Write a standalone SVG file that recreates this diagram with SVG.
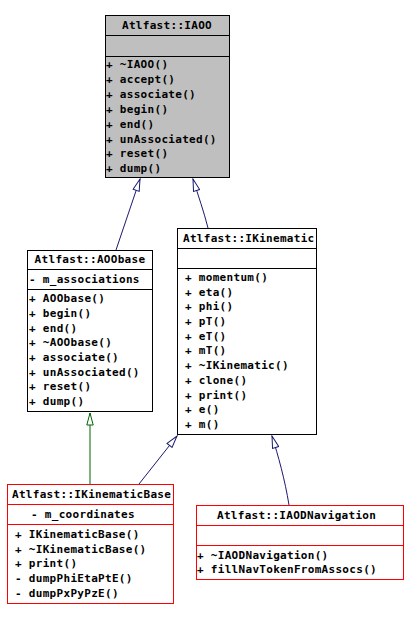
<svg xmlns="http://www.w3.org/2000/svg" width="406" height="620" viewBox="0 0 406 620">
<style>
text{font-family:"DejaVu Sans Mono","Liberation Mono",monospace;font-size:11px;letter-spacing:0.3px;font-weight:bold;fill:#000}
.box{fill:#fff;stroke:#000;stroke-width:1}
.grey{fill:#bfbfbf}
.red{stroke:#ff0000}
.sep{stroke:#000;stroke-width:1}
.sepr{stroke:#ff0000;stroke-width:1}
.pub{fill:none;stroke:#191970;stroke-width:1}
.prot{fill:none;stroke:#006400;stroke-width:1}
.c{text-anchor:middle}
</style>
<defs>
<marker id="aPub" viewBox="0 0 14 8" refX="13" refY="4" markerWidth="14" markerHeight="8" markerUnits="userSpaceOnUse" orient="auto">
<path d="M1,0.8 L13,4 L1,7.2 Z" fill="#fff" stroke="#191970" stroke-width="1"/>
</marker>
<marker id="aProt" viewBox="0 0 14 8" refX="13" refY="4" markerWidth="14" markerHeight="8" markerUnits="userSpaceOnUse" orient="auto">
<path d="M1,0.8 L13,4 L1,7.2 Z" fill="#fff" stroke="#006400" stroke-width="1"/>
</marker>
</defs>
<g id="connectors">
<path class="pub" d="M116,250 L140,179" marker-end="url(#aPub)"/>
<path class="pub" d="M208,228 C204,212 198,195 193,179" marker-end="url(#aPub)"/>
<path class="prot" d="M90,484 L90,413" marker-end="url(#aProt)"/>
<path class="pub" d="M139,484 L177,436" marker-end="url(#aPub)"/>
<path class="pub" d="M289,505 C285,480 278,455 272,436" marker-end="url(#aPub)"/>
</g>
<g id="IAOO">
<rect class="box grey" x="105.5" y="15.5" width="124" height="162"/>
<line class="sep" x1="105" y1="35.5" x2="230" y2="35.5"/>
<line class="sep" x1="105" y1="56.5" x2="230" y2="56.5"/>
<text class="c" x="167" y="29">Atlfast::IAOO</text>
<text x="106" y="68">+ ~IAOO()</text>
<text x="106" y="83">+ accept()</text>
<text x="106" y="98">+ associate()</text>
<text x="106" y="112.5">+ begin()</text>
<text x="106" y="127.5">+ end()</text>
<text x="106" y="142.5">+ unAssociated()</text>
<text x="106" y="157">+ reset()</text>
<text x="106" y="172">+ dump()</text>
</g>
<g id="AOObase">
<rect class="box" x="27.5" y="250.5" width="125" height="161"/>
<line class="sep" x1="27" y1="269.5" x2="153" y2="269.5"/>
<line class="sep" x1="27" y1="289.5" x2="153" y2="289.5"/>
<text class="c" x="90" y="263">Atlfast::AOObase</text>
<text x="29" y="283">- m_associations</text>
<text x="29" y="302">+ AOObase()</text>
<text x="29" y="317">+ begin()</text>
<text x="29" y="332">+ end()</text>
<text x="29" y="346">+ ~AOObase()</text>
<text x="29" y="361">+ associate()</text>
<text x="29" y="376">+ unAssociated()</text>
<text x="29" y="390">+ reset()</text>
<text x="29" y="405">+ dump()</text>
</g>
<g id="IKinematic">
<rect class="box" x="177.5" y="228.5" width="139" height="206"/>
<line class="sep" x1="177" y1="248.5" x2="317" y2="248.5"/>
<line class="sep" x1="177" y1="268.5" x2="317" y2="268.5"/>
<text x="183" y="242">Atlfast::IKinematic</text>
<text x="185" y="281">+ momentum()</text>
<text x="185" y="296">+ eta()</text>
<text x="185" y="310">+ phi()</text>
<text x="185" y="325">+ pT()</text>
<text x="185" y="340">+ eT()</text>
<text x="185" y="354">+ mT()</text>
<text x="185" y="369">+ ~IKinematic()</text>
<text x="185" y="384">+ clone()</text>
<text x="185" y="399">+ print()</text>
<text x="185" y="413">+ e()</text>
<text x="185" y="428">+ m()</text>
</g>
<g id="IKinematicBase">
<rect class="box red" x="7.5" y="484.5" width="166" height="119"/>
<line class="sepr" x1="7" y1="504.5" x2="174" y2="504.5"/>
<line class="sepr" x1="7" y1="524.5" x2="174" y2="524.5"/>
<text x="12" y="498">Atlfast::IKinematicBase</text>
<text x="31" y="518">- m_coordinates</text>
<text x="15" y="538">+ IKinematicBase()</text>
<text x="15" y="553">+ ~IKinematicBase()</text>
<text x="15" y="567">+ print()</text>
<text x="15" y="582">- dumpPhiEtaPtE()</text>
<text x="15" y="597">- dumpPxPyPzE()</text>
</g>
<g id="IAODNavigation">
<rect class="box red" x="196.5" y="505.5" width="207" height="74"/>
<line class="sepr" x1="196" y1="525.5" x2="404" y2="525.5"/>
<line class="sepr" x1="196" y1="545.5" x2="404" y2="545.5"/>
<text x="217" y="519">Atlfast::IAODNavigation</text>
<text x="197" y="559">+ ~IAODNavigation()</text>
<text x="197" y="573">+ fillNavTokenFromAssocs()</text>
</g>
</svg>
